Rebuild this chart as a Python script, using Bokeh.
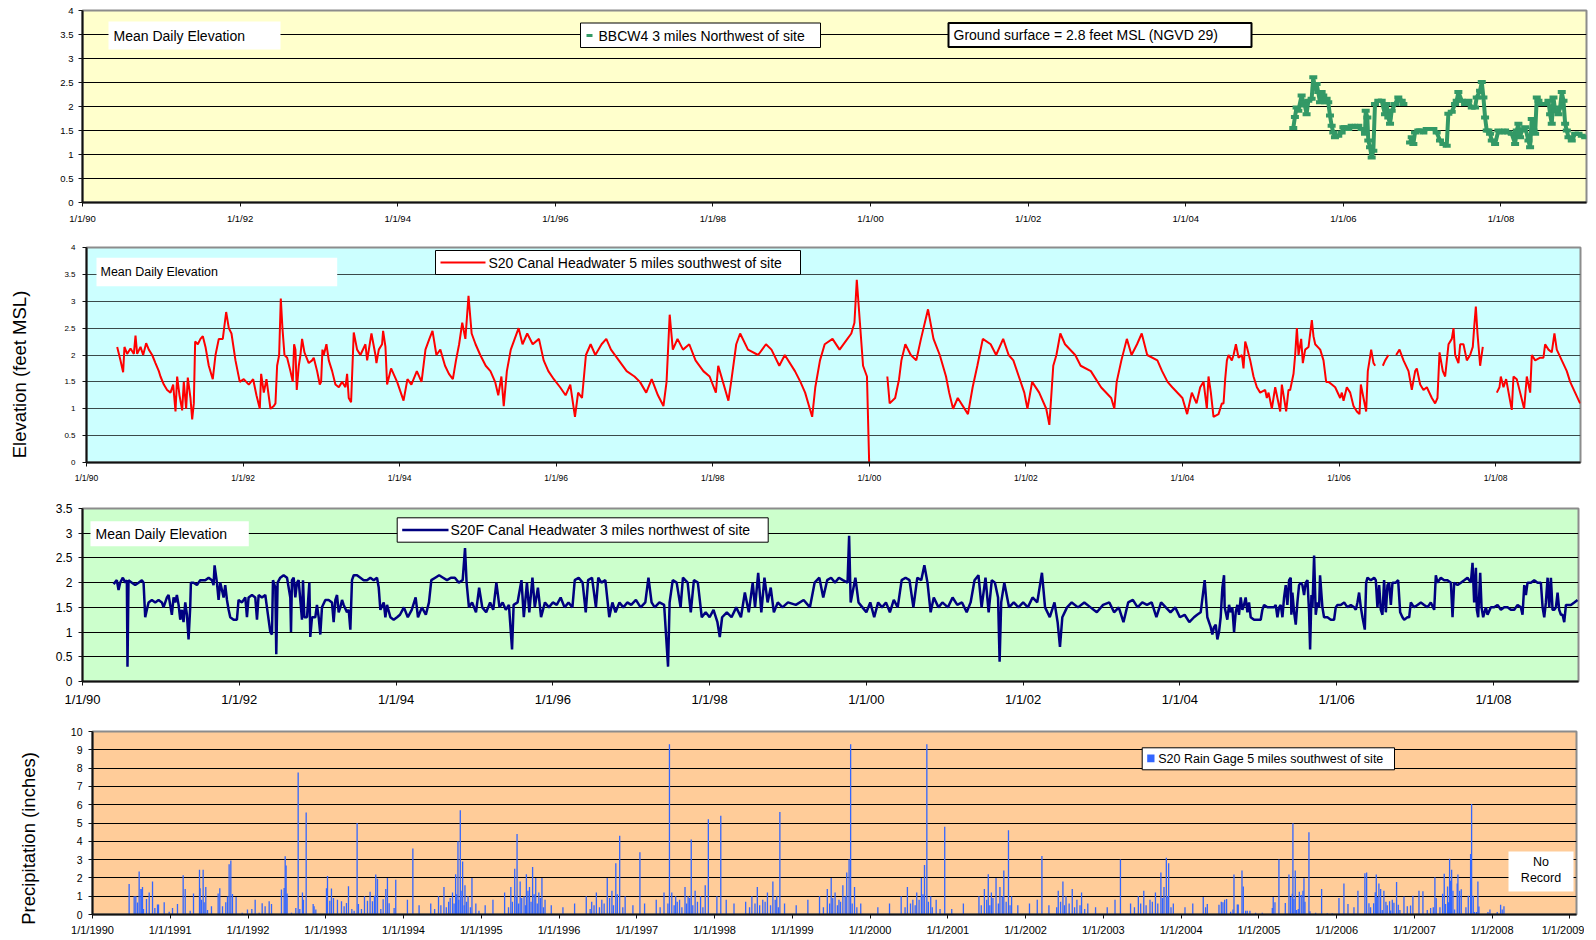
import math
from bokeh.plotting import figure
from bokeh.layouts import column, row
from bokeh.models import Range1d, FixedTicker, NumeralTickFormatter, CustomJSTickFormatter, Spacer
from bokeh.embed import file_html
from bokeh.resources import INLINE
from bokeh.core.properties import value

FONT = "Liberation Sans"
X0, X1 = 1990.0, 2009.085
LW = 40        # left strip with the rotated axis titles
B0 = 34        # left border of every panel figure (room for the y tick labels)
BR0 = 8        # right border of every panel figure
TOTAL_H = 938

# ---------------- data (decimal year, value) ----------------
bbcw4 = [
    (2005.364, 1.55), (2005.385, 1.78), (2005.406, 1.98), (2005.428, 1.91), (2005.470, 2.23), (2005.491, 2.09),
    (2005.512, 2.02), (2005.533, 1.84), (2005.555, 2.12), (2005.597, 2.16), (2005.618, 2.61), (2005.639, 2.37),
    (2005.660, 2.47), (2005.681, 2.30), (2005.703, 2.09), (2005.724, 2.30), (2005.745, 2.23), (2005.766, 2.09),
    (2005.787, 2.16), (2005.808, 2.09), (2005.830, 1.81), (2005.851, 1.60), (2005.872, 1.46), (2005.893, 1.36),
    (2005.935, 1.39), (2005.978, 1.46), (2006.000, 1.57), (2006.020, 1.57), (2006.062, 1.53), (2006.105, 1.60),
    (2006.147, 1.57), (2006.189, 1.60), (2006.232, 1.53), (2006.274, 1.43), (2006.283, 1.91), (2006.304, 1.77),
    (2006.316, 1.29), (2006.338, 1.15), (2006.359, 0.94), (2006.380, 1.08), (2006.401, 2.05), (2006.443, 2.12),
    (2006.486, 2.12), (2006.528, 1.84), (2006.549, 2.05), (2006.570, 1.77), (2006.592, 1.64), (2006.613, 1.91),
    (2006.655, 2.05), (2006.697, 2.19), (2006.740, 2.12), (2006.761, 2.05), (2006.80, None),
    (2006.846, 1.25), (2006.867, 1.36),
    (2006.888, 1.22), (2006.909, 1.46), (2006.951, 1.50), (2006.972, 1.50), (2007.015, 1.46), (2007.057, 1.53),
    (2007.099, 1.53), (2007.142, 1.53), (2007.184, 1.46), (2007.226, 1.29), (2007.269, 1.22), (2007.311, 1.18),
    (2007.332, 1.85), (2007.375, 1.89), (2007.417, 2.05), (2007.438, 2.12), (2007.459, 2.30), (2007.502, 2.12),
    (2007.544, 2.05), (2007.586, 2.12), (2007.629, 1.98), (2007.671, 1.98), (2007.692, 2.19), (2007.734, 2.33),
    (2007.756, 2.51), (2007.777, 2.19), (2007.798, 1.77), (2007.819, 1.50), (2007.840, 1.50), (2007.861, 1.43),
    (2007.883, 1.29), (2007.925, 1.22), (2007.967, 1.50), (2008.010, 1.46), (2008.052, 1.50), (2008.094, 1.46),
    (2008.137, 1.43), (2008.179, 1.22), (2008.200, 1.50), (2008.221, 1.64), (2008.242, 1.36), (2008.264, 1.50),
    (2008.306, 1.57), (2008.348, 1.29), (2008.369, 1.15), (2008.390, 1.74), (2008.412, 1.50), (2008.433, 1.43),
    (2008.454, 2.19), (2008.475, 2.12), (2008.518, 2.05), (2008.560, 2.05), (2008.602, 2.12), (2008.623, 1.84),
    (2008.644, 1.64), (2008.666, 2.19), (2008.687, 1.91), (2008.729, 1.84), (2008.750, 1.98), (2008.771, 2.30),
    (2008.793, 2.12), (2008.814, 1.64), (2008.835, 1.50), (2008.856, 1.36), (2008.898, 1.29), (2008.941, 1.43),
    (2008.983, 1.43), (2009.025, 1.39), (2009.068, 1.36),
]

s20 = [
    (1990.392, 2.15), (1990.434, 1.90), (1990.468, 1.68), (1990.485, 2.15), (1990.519, 2.02), (1990.562, 2.12),
    (1990.605, 2.02), (1990.626, 2.36), (1990.647, 2.02), (1990.690, 2.15), (1990.724, 2.00), (1990.762, 2.22),
    (1990.796, 2.10), (1990.839, 2.00), (1990.881, 1.85), (1990.924, 1.70), (1990.945, 1.60), (1990.988, 1.45),
    (1991.030, 1.35), (1991.073, 1.30), (1991.107, 1.45), (1991.137, 0.95), (1991.158, 1.60), (1991.188, 1.25),
    (1991.222, 0.97), (1991.243, 1.50), (1991.273, 1.00), (1991.294, 1.58), (1991.328, 1.20), (1991.350, 0.80),
    (1991.371, 1.10), (1991.388, 2.25), (1991.422, 2.20), (1991.456, 2.30), (1991.486, 2.35), (1991.520, 2.15),
    (1991.562, 1.80), (1991.613, 1.55), (1991.648, 2.00), (1991.690, 2.30), (1991.741, 2.30), (1991.784, 2.80),
    (1991.818, 2.50), (1991.852, 2.40), (1991.903, 1.90), (1991.958, 1.50), (1992.009, 1.55), (1992.073, 1.45),
    (1992.129, 1.55), (1992.171, 1.25), (1992.214, 1.00), (1992.231, 1.65), (1992.265, 1.30), (1992.299, 1.55),
    (1992.350, 1.00), (1992.393, 1.05), (1992.414, 1.10), (1992.435, 1.80), (1992.461, 2.00), (1992.482, 3.05),
    (1992.503, 2.50), (1992.529, 2.00), (1992.563, 1.95), (1992.605, 1.70), (1992.635, 1.50), (1992.652, 2.20),
    (1992.669, 2.10), (1992.686, 1.35), (1992.712, 1.80), (1992.733, 2.00), (1992.754, 2.30), (1992.784, 2.05),
    (1992.839, 1.85), (1992.882, 1.90), (1992.903, 1.95), (1992.946, 1.70), (1992.980, 1.45), (1992.997, 1.50),
    (1993.014, 2.10), (1993.031, 2.00), (1993.065, 2.20), (1993.095, 1.90), (1993.138, 1.70), (1993.180, 1.45),
    (1993.223, 1.40), (1993.265, 1.50), (1993.308, 1.40), (1993.329, 1.65), (1993.350, 1.20), (1993.380, 1.12),
    (1993.414, 2.42), (1993.457, 2.10), (1993.499, 2.00), (1993.563, 2.20), (1993.585, 1.90), (1993.640, 2.40),
    (1993.691, 2.00), (1993.704, 1.85), (1993.734, 2.10), (1993.776, 2.20), (1993.789, 2.45), (1993.819, 2.15),
    (1993.840, 1.45), (1993.891, 1.75), (1993.968, 1.50),
    (1994.05, 1.15), (1994.10, 1.55), (1994.15, 1.45), (1994.22, 1.70), (1994.28, 1.50), (1994.33, 2.10),
    (1994.38, 2.30), (1994.42, 2.45), (1994.47, 2.00), (1994.52, 2.10), (1994.58, 1.80), (1994.63, 1.65),
    (1994.68, 1.55), (1994.72, 1.90), (1994.76, 2.20), (1994.80, 2.60), (1994.84, 2.30), (1994.88, 3.10),
    (1994.92, 2.40), (1994.97, 2.20), (1995.03, 2.00), (1995.10, 1.80), (1995.16, 1.70), (1995.22, 1.50),
    (1995.26, 1.25), (1995.30, 1.60), (1995.33, 1.05), (1995.37, 1.70), (1995.42, 2.10), (1995.47, 2.30),
    (1995.52, 2.50), (1995.57, 2.20), (1995.63, 2.40), (1995.70, 2.20), (1995.78, 2.30), (1995.84, 1.90),
    (1995.90, 1.70), (1995.97, 1.55), (1996.05, 1.40), (1996.12, 1.25), (1996.18, 1.45), (1996.24, 0.85),
    (1996.28, 1.30), (1996.33, 1.20), (1996.38, 2.00), (1996.44, 2.20), (1996.50, 2.00), (1996.58, 2.20),
    (1996.64, 2.30), (1996.70, 2.10), (1996.80, 1.90), (1996.90, 1.70), (1997.00, 1.60), (1997.07, 1.50),
    (1997.15, 1.30), (1997.22, 1.55), (1997.30, 1.25), (1997.37, 1.05), (1997.41, 1.50), (1997.45, 2.75),
    (1997.49, 2.10), (1997.55, 2.30), (1997.62, 2.10), (1997.70, 2.20), (1997.78, 1.90), (1997.88, 1.70),
    (1997.96, 1.60), (1998.04, 1.30), (1998.07, 1.80), (1998.13, 1.50), (1998.20, 1.15), (1998.24, 1.55),
    (1998.30, 2.20), (1998.35, 2.40), (1998.45, 2.10), (1998.58, 2.00), (1998.68, 2.20), (1998.75, 2.10),
    (1998.85, 1.80), (1998.92, 2.00), (1999.05, 1.70), (1999.12, 1.50), (1999.18, 1.30), (1999.24, 1.00),
    (1999.27, 0.85), (1999.31, 1.40), (1999.37, 1.90), (1999.43, 2.20), (1999.53, 2.30), (1999.62, 2.10),
    (1999.72, 2.30), (1999.77, 2.40), (1999.81, 2.60), (1999.84, 3.40), (1999.88, 2.60), (1999.92, 1.80),
    (1999.97, 1.60), (1999.998, 0.00), (2000.10, None),
    (2000.23, 1.60), (2000.26, 1.10), (2000.33, 1.20), (2000.38, 1.55), (2000.41, 1.90), (2000.46, 2.20),
    (2000.53, 2.00), (2000.60, 1.90), (2000.66, 2.30), (2000.75, 2.85), (2000.82, 2.30), (2000.90, 2.00),
    (2000.98, 1.60), (2001.02, 1.30), (2001.07, 1.00), (2001.13, 1.20), (2001.26, 0.90), (2001.32, 1.40),
    (2001.38, 1.80), (2001.45, 2.30), (2001.55, 2.20), (2001.62, 2.00), (2001.71, 2.30), (2001.78, 2.00),
    (2001.84, 1.90), (2001.91, 1.60), (2001.98, 1.30), (2002.02, 1.00), (2002.08, 1.50), (2002.17, 1.30),
    (2002.26, 1.00), (2002.30, 0.70), (2002.35, 1.80), (2002.39, 2.00), (2002.44, 2.40), (2002.50, 2.20),
    (2002.63, 2.00), (2002.70, 1.80), (2002.83, 1.70), (2002.96, 1.40), (2003.09, 1.20), (2003.13, 1.00),
    (2003.16, 1.50), (2003.22, 1.90), (2003.29, 2.30), (2003.35, 2.00), (2003.42, 2.20), (2003.48, 2.40),
    (2003.55, 2.00), (2003.68, 1.90), (2003.74, 1.70), (2003.81, 1.50), (2003.87, 1.40), (2004.00, 1.20),
    (2004.06, 0.90), (2004.12, 1.30), (2004.18, 1.10),
    (2004.227, 1.40), (2004.270, 1.50), (2004.312, 1.00), (2004.333, 1.60), (2004.363, 1.30), (2004.397, 0.85),
    (2004.461, 0.90), (2004.504, 1.10), (2004.525, 1.10), (2004.546, 1.55), (2004.568, 1.90), (2004.589, 2.00),
    (2004.631, 1.90), (2004.653, 2.00), (2004.683, 2.20), (2004.717, 1.95), (2004.759, 2.00), (2004.780, 1.75),
    (2004.802, 2.25), (2004.823, 2.15), (2004.866, 1.90), (2004.908, 1.60), (2004.951, 1.40), (2004.993, 1.30),
    (2005.057, 1.35), (2005.078, 1.20), (2005.100, 1.30), (2005.142, 1.00), (2005.185, 1.40), (2005.249, 0.95),
    (2005.270, 1.45), (2005.325, 0.95), (2005.355, 1.35), (2005.376, 1.35), (2005.419, 1.65), (2005.440, 2.00),
    (2005.462, 2.50), (2005.483, 2.00), (2005.517, 2.30), (2005.538, 1.85), (2005.568, 2.10), (2005.611, 2.15),
    (2005.653, 2.65), (2005.674, 2.35), (2005.696, 2.20), (2005.760, 2.10), (2005.802, 1.90), (2005.836, 1.50),
    (2005.866, 1.50), (2005.909, 1.45), (2005.951, 1.40), (2006.015, 1.20), (2006.036, 1.30), (2006.058, 1.15),
    (2006.100, 1.40), (2006.143, 1.30), (2006.185, 1.05), (2006.228, 0.95), (2006.262, 0.90), (2006.279, 1.45),
    (2006.313, 1.20), (2006.347, 0.95), (2006.368, 1.70), (2006.390, 1.90), (2006.411, 2.10), (2006.441, 1.85),
    (2006.462, 1.80), (2006.51, None), (2006.560, 1.80), (2006.590, 1.90), (2006.632, 2.00), (2006.68, None),
    (2006.730, 2.00), (2006.773, 2.10), (2006.824, 1.90), (2006.888, 1.70), (2006.930, 1.35), (2006.973, 1.70),
    (2006.994, 1.75), (2007.037, 1.45), (2007.079, 1.35), (2007.122, 1.40), (2007.186, 1.20), (2007.228, 1.10),
    (2007.258, 1.20), (2007.284, 2.05), (2007.326, 1.70), (2007.356, 1.60), (2007.399, 2.20), (2007.441, 2.30),
    (2007.463, 2.50), (2007.484, 2.00), (2007.526, 1.85), (2007.548, 2.20), (2007.590, 2.20), (2007.633, 1.90),
    (2007.675, 2.00), (2007.709, 2.15), (2007.726, 2.50), (2007.748, 2.90), (2007.769, 2.40), (2007.803, 1.80),
    (2007.837, 2.15), (2007.93, None),
    (2008.016, 1.30), (2008.050, 1.40), (2008.067, 1.60), (2008.101, 1.40), (2008.135, 1.55), (2008.207, 0.98),
    (2008.229, 1.60), (2008.271, 1.55), (2008.314, 1.30), (2008.365, 1.00), (2008.399, 1.60), (2008.442, 1.30),
    (2008.463, 2.00), (2008.506, 1.90), (2008.570, 1.95), (2008.612, 1.95), (2008.633, 2.20), (2008.676, 2.10),
    (2008.718, 2.05), (2008.752, 2.40), (2008.782, 2.10), (2008.846, 1.90), (2008.910, 1.70), (2008.953, 1.50),
    (2009.016, 1.30), (2009.080, 1.10),
]

s20f = [
    (1990.396, 1.97), (1990.438, 2.05), (1990.460, 1.85), (1990.481, 2.00), (1990.515, 2.10), (1990.545, 2.00),
    (1990.566, 2.05), (1990.574, 0.30), (1990.587, 2.05), (1990.630, 2.00), (1990.672, 1.95), (1990.715, 2.00),
    (1990.757, 2.05), (1990.779, 2.00), (1990.800, 1.30), (1990.821, 1.45), (1990.843, 1.60), (1990.885, 1.65),
    (1990.928, 1.60), (1990.970, 1.65), (1991.013, 1.60), (1991.034, 1.50), (1991.077, 1.70), (1991.098, 1.75),
    (1991.119, 1.55), (1991.140, 1.35), (1991.162, 1.70), (1991.183, 1.60), (1991.204, 1.75), (1991.226, 1.55),
    (1991.247, 1.25), (1991.268, 1.45), (1991.289, 1.20), (1991.311, 1.60), (1991.332, 1.35), (1991.353, 0.85),
    (1991.374, 1.50), (1991.383, 2.00), (1991.417, 2.00), (1991.460, 1.95), (1991.502, 2.05), (1991.566, 2.05),
    (1991.609, 2.10), (1991.651, 2.05), (1991.672, 1.95), (1991.685, 2.35), (1991.715, 2.00), (1991.736, 1.65),
    (1991.757, 2.00), (1991.779, 1.85), (1991.800, 1.70), (1991.821, 1.95), (1991.843, 1.65), (1991.864, 1.45),
    (1991.885, 1.30), (1991.928, 1.25), (1991.970, 1.25), (1991.991, 1.65), (1992.034, 1.60), (1992.077, 1.70),
    (1992.098, 1.30), (1992.119, 1.70), (1992.162, 1.75), (1992.204, 1.70), (1992.226, 1.25), (1992.247, 1.75),
    (1992.289, 1.70), (1992.332, 1.75), (1992.353, 1.50), (1992.396, 1.00), (1992.417, 0.95), (1992.430, 2.05),
    (1992.460, 1.90), (1992.472, 0.55), (1992.489, 2.00), (1992.523, 2.10), (1992.566, 2.15), (1992.609, 2.10),
    (1992.651, 1.70), (1992.660, 1.00), (1992.672, 2.05), (1992.694, 2.10), (1992.715, 1.70), (1992.736, 2.00),
    (1992.757, 2.05), (1992.800, 1.25), (1992.813, 2.05), (1992.830, 1.30), (1992.864, 1.30), (1992.894, 2.00),
    (1992.906, 0.90), (1992.928, 1.30), (1992.970, 1.30), (1992.991, 1.55), (1993.013, 1.30), (1993.034, 0.95),
    (1993.055, 1.50), (1993.098, 1.65), (1993.140, 1.65), (1993.183, 1.60), (1993.204, 1.20), (1993.226, 1.65),
    (1993.247, 1.75), (1993.268, 1.40), (1993.289, 1.50), (1993.311, 1.65), (1993.332, 1.55), (1993.374, 1.40),
    (1993.396, 1.45), (1993.417, 1.05), (1993.438, 2.05), (1993.460, 2.15), (1993.502, 2.15), (1993.545, 2.10),
    (1993.587, 2.05), (1993.630, 2.05), (1993.672, 2.10), (1993.715, 2.05), (1993.757, 2.10), (1993.779, 1.90),
    (1993.800, 1.45), (1993.843, 1.60), (1993.864, 1.30), (1993.885, 1.55), (1993.928, 1.30), (1993.970, 1.25),
    (1994.013, 1.30),
    (1994.05, 1.35), (1994.10, 1.50), (1994.15, 1.30), (1994.20, 1.45), (1994.25, 1.70), (1994.28, 1.30),
    (1994.33, 1.50), (1994.38, 1.35), (1994.42, 1.60), (1994.45, 2.05), (1994.50, 2.10), (1994.55, 2.15),
    (1994.60, 2.10), (1994.65, 2.05), (1994.70, 2.10), (1994.75, 2.10), (1994.80, 2.00), (1994.85, 2.05),
    (1994.88, 2.70), (1994.90, 2.00), (1994.93, 1.50), (1994.97, 1.60), (1995.02, 1.40), (1995.06, 1.90),
    (1995.10, 1.50), (1995.15, 1.40), (1995.20, 1.60), (1995.24, 1.45), (1995.28, 2.00), (1995.32, 1.50),
    (1995.36, 1.60), (1995.40, 1.45), (1995.44, 1.55), (1995.48, 0.65), (1995.50, 1.55), (1995.55, 1.60),
    (1995.60, 2.05), (1995.63, 1.30), (1995.67, 2.00), (1995.70, 1.40), (1995.74, 2.10), (1995.77, 1.50),
    (1995.81, 1.90), (1995.85, 1.30), (1995.90, 1.60), (1995.95, 1.50), (1996.00, 1.60), (1996.05, 1.55),
    (1996.10, 1.70), (1996.15, 1.50), (1996.20, 1.60), (1996.25, 1.50), (1996.28, 2.05), (1996.33, 2.10),
    (1996.38, 2.00), (1996.42, 1.40), (1996.45, 2.05), (1996.50, 2.10), (1996.55, 1.50), (1996.58, 2.10),
    (1996.62, 2.00), (1996.67, 2.05), (1996.72, 1.30), (1996.76, 1.60), (1996.80, 1.40), (1996.85, 1.60),
    (1996.90, 1.50), (1996.95, 1.60), (1997.00, 1.55), (1997.06, 1.65), (1997.12, 1.50), (1997.18, 1.60),
    (1997.22, 2.10), (1997.26, 1.60), (1997.30, 1.50), (1997.36, 1.60), (1997.42, 1.55), (1997.47, 0.30),
    (1997.49, 1.60), (1997.53, 2.05), (1997.58, 2.00), (1997.63, 1.50), (1997.66, 2.10), (1997.72, 2.00),
    (1997.76, 1.40), (1997.80, 2.05), (1997.85, 2.00), (1997.90, 1.30), (1997.95, 1.40), (1998.00, 1.30),
    (1998.05, 1.45), (1998.10, 1.20), (1998.13, 0.90), (1998.16, 1.30), (1998.22, 1.40), (1998.28, 1.30),
    (1998.34, 1.50), (1998.40, 1.30), (1998.45, 1.80), (1998.50, 1.40), (1998.55, 2.00), (1998.58, 1.50),
    (1998.62, 2.20), (1998.66, 1.40), (1998.70, 2.10), (1998.74, 1.60), (1998.78, 1.90), (1998.82, 1.40),
    (1998.87, 1.60), (1998.93, 1.50), (1999.00, 1.60), (1999.10, 1.55), (1999.20, 1.65), (1999.28, 1.50),
    (1999.34, 2.00), (1999.40, 2.10), (1999.45, 1.70), (1999.50, 2.05), (1999.55, 2.10), (1999.60, 2.00),
    (1999.65, 2.10), (1999.70, 2.05), (1999.76, 2.00), (1999.78, 2.95), (1999.80, 1.60), (1999.86, 2.10),
    (1999.90, 1.60), (1999.95, 1.50), (2000.00, 1.40), (2000.05, 1.60), (2000.10, 1.30), (2000.15, 1.60),
    (2000.20, 1.50), (2000.25, 1.60), (2000.30, 1.40), (2000.35, 1.65), (2000.40, 1.50), (2000.45, 2.05),
    (2000.50, 2.10), (2000.55, 2.05), (2000.60, 1.50), (2000.65, 2.10), (2000.70, 2.05), (2000.74, 2.35),
    (2000.78, 2.00), (2000.82, 1.40), (2000.86, 1.70), (2000.92, 1.50), (2000.97, 1.60), (2001.04, 1.50),
    (2001.10, 1.70), (2001.16, 1.55), (2001.22, 1.60), (2001.28, 1.40), (2001.33, 1.60), (2001.38, 2.05),
    (2001.43, 2.15), (2001.47, 1.50), (2001.52, 2.10), (2001.56, 1.40), (2001.60, 2.05), (2001.64, 2.00),
    (2001.68, 1.70), (2001.70, 0.40), (2001.72, 1.60), (2001.76, 2.00), (2001.82, 1.50), (2001.88, 1.60),
    (2001.94, 1.50), (2002.00, 1.60), (2002.06, 1.50), (2002.12, 1.70), (2002.18, 1.60), (2002.24, 2.20),
    (2002.28, 1.50), (2002.34, 1.30), (2002.40, 1.60), (2002.44, 1.20), (2002.47, 0.70), (2002.50, 1.30),
    (2002.56, 1.50), (2002.62, 1.60), (2002.70, 1.50), (2002.78, 1.60), (2002.86, 1.50), (2002.94, 1.40),
    (2003.02, 1.55), (2003.10, 1.60), (2003.16, 1.40), (2003.22, 1.50), (2003.28, 1.20), (2003.34, 1.60),
    (2003.40, 1.65), (2003.46, 1.50), (2003.52, 1.60), (2003.58, 1.55), (2003.64, 1.60), (2003.70, 1.30),
    (2003.76, 1.60), (2003.82, 1.50), (2003.88, 1.40), (2003.94, 1.50), (2004.00, 1.30), (2004.06, 1.35),
    (2004.12, 1.20), (2004.18, 1.30), (2004.22, 1.35),
    (2004.265, 1.40), (2004.316, 2.05), (2004.350, 1.30), (2004.393, 1.10), (2004.414, 0.95), (2004.435, 1.10),
    (2004.457, 1.15), (2004.478, 0.85), (2004.499, 1.00), (2004.520, 1.30), (2004.542, 1.90), (2004.563, 2.15),
    (2004.571, 1.50), (2004.605, 1.25), (2004.627, 1.55), (2004.648, 1.40), (2004.669, 1.50), (2004.691, 1.00),
    (2004.712, 1.40), (2004.733, 1.55), (2004.754, 1.35), (2004.776, 1.70), (2004.797, 1.45), (2004.818, 1.55),
    (2004.839, 1.70), (2004.861, 1.40), (2004.882, 1.60), (2004.903, 1.30), (2004.946, 1.25), (2004.988, 1.25),
    (2005.031, 1.25), (2005.052, 1.45), (2005.074, 1.55), (2005.116, 1.50), (2005.159, 1.50), (2005.201, 1.50),
    (2005.222, 1.55), (2005.244, 1.30), (2005.265, 1.50), (2005.286, 1.55), (2005.308, 1.30), (2005.329, 1.70),
    (2005.350, 1.95), (2005.371, 1.55), (2005.393, 2.05), (2005.414, 2.10), (2005.422, 1.35), (2005.435, 1.80),
    (2005.457, 1.40), (2005.478, 1.15), (2005.499, 1.60), (2005.520, 1.95), (2005.542, 2.00), (2005.563, 1.95),
    (2005.584, 1.75), (2005.605, 2.00), (2005.627, 2.05), (2005.648, 1.40), (2005.661, 0.65), (2005.678, 1.75),
    (2005.691, 1.50), (2005.712, 2.55), (2005.733, 1.35), (2005.754, 1.60), (2005.776, 1.50), (2005.788, 2.15),
    (2005.818, 1.50), (2005.839, 1.30), (2005.882, 1.30), (2005.925, 1.25), (2005.967, 1.25), (2005.988, 1.50),
    (2006.010, 1.55), (2006.052, 1.55), (2006.095, 1.60), (2006.137, 1.50), (2006.180, 1.55), (2006.222, 1.50),
    (2006.244, 1.45), (2006.265, 1.60), (2006.286, 1.80), (2006.308, 1.50), (2006.329, 1.30), (2006.359, 1.05),
    (2006.376, 2.00), (2006.393, 2.10), (2006.435, 2.05), (2006.478, 2.10), (2006.499, 2.05), (2006.520, 1.50),
    (2006.542, 1.95), (2006.563, 1.45), (2006.584, 1.35), (2006.605, 2.05), (2006.627, 1.40), (2006.648, 1.95),
    (2006.669, 2.00), (2006.691, 1.55), (2006.712, 2.00), (2006.754, 2.00), (2006.784, 2.05), (2006.810, 1.40),
    (2006.839, 1.30), (2006.861, 1.25), (2006.903, 1.30), (2006.925, 1.30), (2006.946, 1.60), (2006.988, 1.50),
    (2007.031, 1.55), (2007.074, 1.60), (2007.116, 1.55), (2007.159, 1.50), (2007.201, 1.60), (2007.244, 1.45),
    (2007.265, 2.15), (2007.286, 2.00), (2007.329, 2.10), (2007.371, 2.05), (2007.414, 2.05), (2007.457, 2.00),
    (2007.478, 1.30), (2007.499, 2.00), (2007.542, 1.95), (2007.584, 2.00), (2007.627, 2.05), (2007.669, 2.10),
    (2007.712, 2.00), (2007.733, 2.40), (2007.754, 1.60), (2007.776, 2.30), (2007.788, 1.45), (2007.805, 1.30),
    (2007.831, 2.20), (2007.848, 1.50), (2007.869, 1.30), (2007.903, 1.50), (2007.925, 1.35), (2007.967, 1.50),
    (2008.010, 1.50), (2008.052, 1.55), (2008.095, 1.45), (2008.137, 1.50), (2008.180, 1.50), (2008.222, 1.45),
    (2008.265, 1.45), (2008.308, 1.55), (2008.350, 1.50), (2008.371, 1.35), (2008.393, 1.95), (2008.414, 1.75),
    (2008.435, 2.00), (2008.478, 2.00), (2008.520, 2.05), (2008.563, 2.00), (2008.605, 2.00), (2008.627, 1.50),
    (2008.648, 1.30), (2008.669, 1.60), (2008.691, 2.10), (2008.712, 1.50), (2008.733, 2.10), (2008.754, 1.45),
    (2008.776, 1.45), (2008.797, 1.50), (2008.818, 1.80), (2008.839, 1.45), (2008.861, 1.35), (2008.882, 1.35),
    (2008.903, 1.20), (2008.925, 1.55), (2008.946, 1.55), (2008.988, 1.55), (2009.031, 1.60), (2009.073, 1.65),
]

rain = [
    (1990.471, 1.67), (1990.536, 1.00), (1990.557, 1.00), (1990.579, 0.65), (1990.600, 2.35), (1990.622, 1.40),
    (1990.634, 1.38), (1990.643, 1.50), (1990.656, 0.30), (1990.694, 0.85), (1990.729, 1.20), (1990.772, 1.80),
    (1990.802, 0.35), (1990.836, 0.55), (1990.849, 0.55), (1990.922, 0.67), (1990.986, 0.15), (1991.029, 0.35),
    (1991.093, 0.58), (1991.166, 2.15), (1991.192, 1.40), (1991.256, 0.20), (1991.299, 1.15), (1991.376, 2.45),
    (1991.384, 1.43), (1991.402, 0.80), (1991.423, 2.45), (1991.436, 0.67), (1991.457, 1.50), (1991.479, 0.25),
    (1991.530, 0.45), (1991.616, 1.15), (1991.637, 1.43), (1991.672, 0.45), (1991.714, 0.67), (1991.736, 0.98),
    (1991.757, 2.75), (1991.779, 2.95), (1991.800, 1.12), (1991.847, 0.95), (1991.925, 0.10), (1991.993, 0.27),
    (1992.049, 0.30), (1992.092, 0.80), (1992.143, 0.10), (1992.182, 0.62), (1992.220, 0.45), (1992.272, 0.72),
    (1992.302, 0.58), (1992.430, 1.37), (1992.465, 1.45), (1992.478, 3.18), (1992.490, 2.68), (1992.503, 1.15),
    (1992.559, 0.10), (1992.615, 0.35), (1992.645, 7.76), (1992.666, 0.30), (1992.700, 1.20), (1992.713, 0.80),
    (1992.748, 5.58), (1992.838, 0.58), (1992.850, 0.45), (1992.872, 0.27), (1993.009, 1.43), (1993.022, 2.10),
    (1993.052, 0.75), (1993.073, 1.42), (1993.099, 0.90), (1993.150, 0.80), (1993.202, 0.73), (1993.236, 0.45),
    (1993.266, 0.63), (1993.292, 1.55), (1993.335, 0.30), (1993.365, 0.20), (1993.403, 5.00), (1993.420, 0.58),
    (1993.459, 0.30), (1993.498, 1.00), (1993.536, 0.75), (1993.570, 1.25), (1993.600, 0.73), (1993.626, 1.03),
    (1993.643, 2.18), (1993.665, 1.95), (1993.708, 0.30), (1993.738, 0.83), (1993.772, 1.40), (1993.793, 2.00),
    (1993.815, 0.62), (1993.879, 0.35), (1993.900, 1.90),
    (1994.05, 0.80), (1994.12, 3.60), (1994.20, 0.50), (1994.35, 0.60), (1994.45, 1.00), (1994.52, 1.50),
    (1994.58, 0.70), (1994.63, 1.20), (1994.67, 2.20), (1994.70, 4.00), (1994.73, 5.70), (1994.76, 2.90),
    (1994.79, 1.60), (1994.83, 1.00), (1994.88, 2.00), (1994.93, 0.60),
    (1994.40, 0.30), (1994.48, 0.50), (1994.55, 0.40), (1994.60, 0.90), (1994.65, 0.60), (1994.68, 1.10),
    (1994.71, 0.80), (1994.74, 1.30), (1994.78, 0.50), (1994.81, 0.70), (1994.86, 0.40), (1994.97, 0.20),
    (1995.05, 0.50), (1995.15, 0.80), (1995.30, 1.20), (1995.38, 1.50), (1995.43, 2.50), (1995.46, 4.40),
    (1995.50, 1.80), (1995.55, 1.00), (1995.58, 2.20), (1995.62, 1.50), (1995.66, 2.60), (1995.70, 2.00),
    (1995.74, 1.20), (1995.78, 2.00), (1995.82, 0.80), (1995.90, 0.50),
    (1995.35, 0.40), (1995.40, 0.70), (1995.45, 1.00), (1995.48, 0.60), (1995.52, 0.90), (1995.57, 0.50),
    (1995.60, 1.30), (1995.64, 0.70), (1995.68, 1.10), (1995.72, 0.60), (1995.76, 0.90), (1995.80, 0.40),
    (1996.05, 0.40), (1996.20, 0.60), (1996.35, 1.00), (1996.42, 0.70), (1996.48, 1.20), (1996.55, 0.80),
    (1996.62, 2.00), (1996.68, 1.30), (1996.73, 2.80), (1996.78, 4.30), (1996.85, 1.00), (1996.95, 0.50),
    (1996.40, 0.30), (1996.45, 0.50), (1996.52, 0.40), (1996.58, 0.60), (1996.65, 0.90), (1996.70, 0.50),
    (1996.75, 1.10), (1996.82, 0.40),
    (1997.04, 3.40), (1997.10, 0.60), (1997.25, 0.80), (1997.35, 1.20), (1997.42, 9.30), (1997.45, 1.20),
    (1997.50, 1.00), (1997.55, 0.80), (1997.62, 1.50), (1997.66, 1.00), (1997.70, 4.10), (1997.75, 1.30),
    (1997.82, 1.00), (1997.88, 1.60), (1997.92, 5.20),
    (1997.30, 0.40), (1997.40, 0.60), (1997.48, 0.50), (1997.52, 0.70), (1997.58, 0.40), (1997.64, 0.60),
    (1997.68, 0.90), (1997.72, 0.50), (1997.78, 0.70), (1997.85, 0.40),
    (1998.03, 1.00), (1998.08, 5.40), (1998.15, 0.80), (1998.25, 0.60), (1998.40, 0.70), (1998.48, 1.00),
    (1998.55, 1.50), (1998.62, 0.80), (1998.68, 1.20), (1998.75, 1.80), (1998.80, 1.00), (1998.84, 5.60),
    (1998.90, 0.60),
    (1998.45, 0.40), (1998.52, 0.60), (1998.58, 0.50), (1998.65, 0.70), (1998.72, 0.50), (1998.78, 0.80),
    (1998.82, 0.40),
    (1999.05, 0.50), (1999.20, 0.80), (1999.35, 1.00), (1999.45, 1.40), (1999.50, 2.00), (1999.55, 1.20),
    (1999.60, 0.80), (1999.65, 1.60), (1999.70, 2.30), (1999.73, 3.00), (1999.75, 9.30), (1999.80, 1.50),
    (1999.88, 0.60),
    (1999.40, 0.40), (1999.48, 0.60), (1999.52, 0.90), (1999.58, 0.50), (1999.62, 0.70), (1999.68, 1.00),
    (1999.77, 0.60), (1999.83, 0.40),
    (2000.10, 0.40), (2000.25, 0.60), (2000.40, 1.00), (2000.48, 1.50), (2000.55, 0.80), (2000.60, 1.20),
    (2000.66, 2.00), (2000.70, 2.70), (2000.73, 9.30), (2000.78, 1.00), (2000.85, 0.80), (2000.96, 4.80),
    (2000.45, 0.40), (2000.52, 0.60), (2000.58, 0.50), (2000.63, 0.80), (2000.68, 1.10), (2000.75, 0.70),
    (2000.80, 0.40), (2000.90, 0.30),
    (2001.05, 0.30), (2001.20, 0.60), (2001.40, 1.00), (2001.47, 1.40), (2001.52, 2.20), (2001.56, 1.20),
    (2001.62, 2.00), (2001.67, 1.50), (2001.72, 2.40), (2001.78, 4.60), (2001.82, 1.00), (2001.90, 0.50),
    (2001.43, 0.50), (2001.50, 0.80), (2001.54, 0.50), (2001.58, 0.90), (2001.65, 0.60), (2001.70, 1.00),
    (2001.75, 0.70), (2001.80, 0.50),
    (2002.05, 0.60), (2002.15, 0.80), (2002.21, 3.20), (2002.30, 0.50), (2002.42, 1.30), (2002.48, 1.80),
    (2002.52, 1.00), (2002.60, 1.40), (2002.66, 0.80), (2002.72, 1.20), (2002.80, 0.60), (2002.90, 0.40),
    (2002.40, 0.40), (2002.45, 0.70), (2002.50, 0.50), (2002.56, 0.60), (2002.63, 0.40), (2002.70, 0.50),
    (2002.76, 0.30),
    (2003.05, 0.40), (2003.15, 0.80), (2003.22, 3.00), (2003.35, 0.60), (2003.45, 1.00), (2003.52, 1.30),
    (2003.60, 0.80), (2003.67, 1.20), (2003.74, 2.30), (2003.78, 1.50), (2003.81, 3.10), (2003.84, 2.80),
    (2003.90, 0.60), (2004.05, 0.40), (2004.15, 0.60),
    (2003.40, 0.40), (2003.48, 0.60), (2003.55, 0.50), (2003.63, 0.70), (2003.70, 0.60), (2003.76, 0.90),
    (2003.83, 1.00), (2003.87, 0.40),
    (2004.285, 0.95), (2004.315, 0.40), (2004.337, 0.58), (2004.487, 0.53), (2004.517, 0.70), (2004.538, 0.67),
    (2004.560, 0.80), (2004.585, 0.85), (2004.637, 0.15), (2004.667, 0.27), (2004.680, 2.18), (2004.723, 0.55),
    (2004.735, 0.55), (2004.783, 2.40), (2004.800, 1.53), (2004.830, 0.20), (2004.851, 0.20), (2004.885, 0.20),
    (2004.958, 0.10), (2005.044, 0.10), (2005.173, 0.35), (2005.185, 0.95), (2005.207, 0.67), (2005.258, 3.00),
    (2005.340, 0.63), (2005.387, 2.18), (2005.408, 0.95), (2005.430, 1.13), (2005.438, 4.98), (2005.451, 0.85),
    (2005.468, 2.40), (2005.485, 0.25), (2005.507, 0.30), (2005.520, 1.25), (2005.545, 1.07), (2005.567, 1.30),
    (2005.580, 1.98), (2005.593, 0.70), (2005.644, 4.49), (2005.657, 0.18), (2005.730, 0.10), (2005.807, 1.40),
    (2005.880, 0.07), (2005.944, 0.07), (2006.030, 0.90), (2006.094, 1.70), (2006.146, 0.58), (2006.223, 0.40),
    (2006.274, 1.30), (2006.364, 2.25), (2006.386, 2.30), (2006.416, 0.62), (2006.437, 0.40), (2006.476, 0.62),
    (2006.497, 1.22), (2006.510, 2.18), (2006.523, 0.95), (2006.544, 1.70), (2006.566, 1.40), (2006.587, 0.25),
    (2006.608, 1.30), (2006.634, 0.70), (2006.651, 0.50), (2006.681, 0.73), (2006.694, 0.22), (2006.716, 0.80),
    (2006.737, 0.64), (2006.771, 1.77), (2006.793, 0.53), (2006.814, 0.25), (2006.866, 0.98), (2006.909, 0.45),
    (2006.951, 0.49), (2006.981, 1.03), (2007.059, 1.30), (2007.110, 1.27), (2007.166, 0.25), (2007.209, 0.35),
    (2007.243, 0.40), (2007.264, 2.03), (2007.281, 0.90), (2007.329, 0.40), (2007.363, 1.13), (2007.384, 2.22),
    (2007.401, 0.58), (2007.427, 1.53), (2007.440, 0.67), (2007.453, 3.04), (2007.466, 1.85), (2007.479, 2.44),
    (2007.496, 1.30), (2007.517, 0.27), (2007.551, 1.70), (2007.560, 2.18), (2007.582, 1.30), (2007.603, 1.38),
    (2007.663, 0.40), (2007.693, 1.03), (2007.723, 3.30), (2007.736, 6.04), (2007.757, 1.03), (2007.774, 0.13),
    (2007.800, 0.13), (2007.817, 1.80), (2007.830, 0.44), (2007.946, 0.13), (2007.972, 0.27), (2008.066, 0.13),
    (2008.109, 0.53), (2008.130, 0.27), (2008.152, 0.45),
]

elev_ticks = [0, 0.5, 1, 1.5, 2, 2.5, 3, 3.5, 4]
elev_ticks_f = [0, 0.5, 1, 1.5, 2, 2.5, 3, 3.5]
rain_ticks = [0, 1, 2, 3, 4, 5, 6, 7, 8, 9, 10]
even_years = [1990, 1992, 1994, 1996, 1998, 2000, 2002, 2004, 2006, 2008]
all_years = list(range(1990, 2010))


def unzip(pairs):
    xs = [a for a, b in pairs]
    ys = [float("nan") if b is None else b for a, b in pairs]
    return xs, ys


def make_fig(top, h, spacer, frame_w, bt, bb, ymax, bg, grid_color, yticks, xticks, fmt_code,
             ytick_size, xtick_size, y_standoff, x_standoff, x_tick_out=4):
    p = figure(width=B0 + frame_w + BR0, height=h, x_range=Range1d(X0, X1), y_range=Range1d(0, ymax),
               output_backend="svg", toolbar_location=None, title=None,
               min_border_left=B0, min_border_right=BR0, min_border_top=bt, min_border_bottom=bb)
    p.background_fill_color = bg
    p.border_fill_color = "white"
    p.outline_line_color = "#8c8c8c"
    p.outline_line_width = 2
    p.xgrid.visible = False
    p.ygrid.grid_line_color = grid_color
    p.ygrid.grid_line_width = 1
    p.ygrid.ticker = FixedTicker(ticks=yticks)
    p.yaxis.ticker = FixedTicker(ticks=yticks)
    p.yaxis.formatter = NumeralTickFormatter(format="0.[0]")
    p.xaxis.ticker = FixedTicker(ticks=xticks)
    p.xaxis.formatter = CustomJSTickFormatter(code=fmt_code)
    for ax, size, so, tout in ((p.yaxis, ytick_size, y_standoff, 4), (p.xaxis, xtick_size, x_standoff, x_tick_out)):
        ax.axis_line_color = "#111111"
        ax.axis_line_width = 2
        ax.major_tick_line_color = "#111111"
        ax.major_tick_line_width = 1
        ax.major_tick_out = tout
        ax.major_tick_in = 0
        ax.minor_tick_line_color = None
        ax.major_label_text_font = FONT
        ax.major_label_text_font_size = size
        ax.major_label_text_color = "black"
        ax.major_label_standoff = so
    left = LW + spacer + B0
    frame = dict(L=left, R=left + frame_w, T=top + bt, B=top + h - bb, ymax=ymax)
    holder = row(Spacer(width=spacer, height=h), p, spacing=0) if spacer > 0 else p
    return p, frame, holder


def dx(fr, px):
    return X0 + (px - fr["L"]) / (fr["R"] - fr["L"]) * (X1 - X0)


def dy(fr, py):
    return (fr["B"] - py) / (fr["B"] - fr["T"]) * fr["ymax"]


def box(p, fr, x0, y0, x1, y1, lw=0, lc=None):
    p.quad(left=dx(fr, x0), right=dx(fr, x1), top=dy(fr, y0), bottom=dy(fr, y1),
           fill_color="white", line_color=lc, line_width=lw)


def txt(p, fr, x, y, s, size, align="left"):
    p.text(x=[dx(fr, x)], y=[dy(fr, y)], text=[s], text_font=value(FONT), text_font_size=value(size),
           text_align=align, text_baseline="middle", text_color="black")


FMT2 = "return '1/1/' + String(Math.round(tick)).slice(2);"
FMT4 = "return '1/1/' + String(Math.round(tick));"

# ---------------- panel 1: BBCW4 ----------------
p1, f1, h1 = make_fig(0, 228, 8, 1504, 10, 26, 4, "#FFFFCC", "#000000", elev_ticks, even_years, FMT2,
                      "9.5px", "9.5px", 5, 6)
bx, by = unzip(bbcw4)
p1.line(bx, by, line_color="#339966", line_width=4)
p1.scatter(bx, by, marker="dash", size=8, line_width=4, line_color="#339966", fill_color="#339966")
box(p1, f1, 108, 21, 280, 49)
txt(p1, f1, 113, 35, "Mean Daily Elevation", "14px")
box(p1, f1, 580, 22.5, 820, 47, 1, "black")
p1.segment(x0=[dx(f1, 586)], y0=[dy(f1, 35)], x1=[dx(f1, 592)], y1=[dy(f1, 35)], line_color="#339966", line_width=3)
txt(p1, f1, 598, 35, "BBCW4 3 miles Northwest of site", "14px")
box(p1, f1, 948, 22.5, 1251, 46.5, 2, "black")
txt(p1, f1, 953, 34.5, "Ground surface = 2.8 feet MSL (NGVD 29)", "14px")

# ---------------- panel 2: S20 ----------------
p2, f2, h2 = make_fig(228, 262, 12, 1494, 19, 28, 4, "#CCFFFF", "#3a4a4a", elev_ticks, even_years, FMT2,
                      "8px", "8.5px", 7, 6)
rx, ry = unzip(s20)
p2.line(rx, ry, line_color="#FF0000", line_width=2)
box(p2, f2, 96, 257.3, 336.7, 285.7)
txt(p2, f2, 100, 271.5, "Mean Daily Elevation", "12.5px")
box(p2, f2, 435, 250, 800, 274, 1, "black")
p2.segment(x0=[dx(f2, 440)], y0=[dy(f2, 262)], x1=[dx(f2, 485)], y1=[dy(f2, 262)], line_color="#FF0000", line_width=2)
txt(p2, f2, 488, 262, "S20 Canal Headwater 5 miles southwest of site", "14px")

# ---------------- panel 3: S20F ----------------
p3, f3, h3 = make_fig(490, 222, 8, 1496, 18, 31, 3.5, "#CCFFCC", "#000000", elev_ticks_f, even_years, FMT2,
                      "12px", "13px", 6, 6)
nx, ny = unzip(s20f)
p3.line(nx, ny, line_color="#000080", line_width=2.5)
box(p3, f3, 90, 520.7, 248.3, 545.7)
txt(p3, f3, 95, 533, "Mean Daily Elevation", "14px")
box(p3, f3, 396.7, 517.3, 767.7, 541.7, 1, "black")
p3.segment(x0=[dx(f3, 401.7)], y0=[dy(f3, 529.5)], x1=[dx(f3, 448)], y1=[dy(f3, 529.5)], line_color="#000080", line_width=2.5)
txt(p3, f3, 450, 529.5, "S20F Canal Headwater 3 miles northwest of site", "14px")

# ---------------- panel 4: rain ----------------
p4, f4, h4 = make_fig(712, 226, 18, 1484, 19, 24, 10, "#FFCC99", "#000000", rain_ticks, all_years, FMT4,
                      "10.5px", "11px", 6, 5, x_tick_out=4)
wx, wy = unzip(rain)
p4.segment(x0=wx, y0=[0] * len(wx), x1=wx, y1=wy, line_color="#3366FF", line_width=1.3)
box(p4, f4, 1141.7, 747.3, 1394, 769.3, 1, "black")
p4.quad(left=[dx(f4, 1146.7)], right=[dx(f4, 1154)], top=[dy(f4, 754)], bottom=[dy(f4, 761.7)],
        fill_color="#3366FF", line_color=None)
txt(p4, f4, 1157.7, 758, "S20 Rain Gage 5 miles southwest of site", "12.5px")
box(p4, f4, 1508, 851, 1573, 891)
txt(p4, f4, 1540.5, 861, "No", "12.5px", "center")
txt(p4, f4, 1540.5, 877.5, "Record", "12.5px", "center")

# ---------------- left strip with the rotated axis titles ----------------
lab = figure(width=LW, height=TOTAL_H, x_range=Range1d(0, LW), y_range=Range1d(0, TOTAL_H),
             output_backend="svg", toolbar_location=None, title=None,
             x_axis_location=None, y_axis_location=None, min_border=0)
lab.outline_line_color = None
lab.background_fill_color = "white"
lab.border_fill_color = "white"
lab.xgrid.visible = False
lab.ygrid.visible = False
axis_titles = ["Elevation (feet MSL)", "Precipitation (inches)"]
title_px = [(18.5, 374), (28, 838)]
lab.text(x=[px for px, py in title_px], y=[TOTAL_H - py for px, py in title_px], text=axis_titles,
         angle=math.pi / 2, text_align="center", text_baseline="middle",
         text_font=value(FONT), text_font_size=value("18.5px"), text_color="black")

layout = row(lab, column(h1, h2, h3, h4, spacing=0), spacing=0)
open("out.html", "w").write(file_html(layout, INLINE))
